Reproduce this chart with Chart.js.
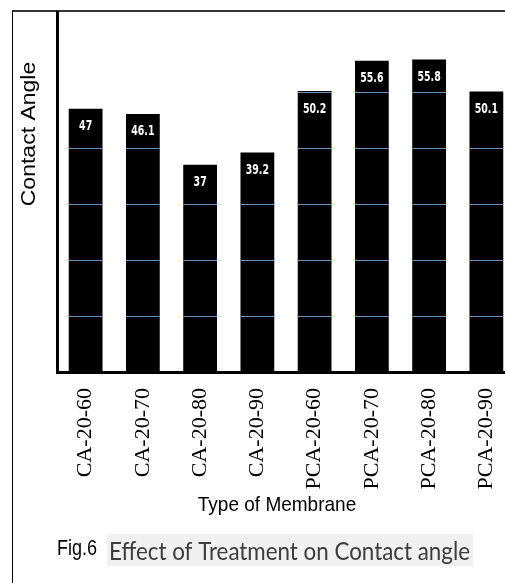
<!DOCTYPE html>
<html>
<head>
<meta charset="utf-8">
<script src="https://cdn.jsdelivr.net/npm/chart.js@4.4.0/dist/chart.umd.min.js"></script>
<style>
  html, body { margin: 0; padding: 0; background: #fff; overflow: hidden; }
  #wrap { position: relative; width: 505px; height: 583px; overflow: hidden; }
  #frame { position: absolute; left: 12px; top: 10px; width: 520px; height: 600px;
           border-left: 1px solid #000; border-top: 2px solid #333; }
  #box { position: absolute; left: 0; top: 0; width: 515px; height: 583px; }
</style>
</head>
<body>
<div id="wrap">
  <div id="frame"></div>
  <div id="box"><canvas id="chart"></canvas></div>
</div>
<script>
const membranes = ['CA-20-60', 'CA-20-70', 'CA-20-80', 'CA-20-90', 'PCA-20-60', 'PCA-20-70', 'PCA-20-80', 'PCA-20-90'];
const contactAngle = [47, 46.1, 37, 39.2, 50.2, 55.6, 55.8, 50.1];
const gridValues = [10, 20, 30, 40, 50];
const yMax = 64.3;

// gridlines only show on top of the black bars, plus the white value labels
const barOverlay = {
  id: 'barOverlay',
  afterDatasetsDraw(chart) {
    const ctx = chart.ctx;
    const yScale = chart.scales.y;
    const meta = chart.getDatasetMeta(0);
    ctx.save();
    meta.data.forEach((bar, i) => {
      const half = bar.width / 2;
      ctx.strokeStyle = '#6690c0';
      ctx.lineWidth = 1;
      gridValues.forEach(v => {
        const y = Math.round(yScale.getPixelForValue(v)) + 0.5;
        if (y > bar.y + 1) {
          ctx.beginPath();
          ctx.moveTo(bar.x - half, y);
          ctx.lineTo(bar.x + half, y);
          ctx.stroke();
        }
      });
      ctx.save();
      ctx.translate(bar.x, bar.y + 18);
      ctx.scale(0.95, 1.25);
      ctx.fillStyle = '#fff';
      ctx.font = 'bold 11px "DejaVu Sans Condensed", "DejaVu Sans"';
      ctx.textAlign = 'center';
      ctx.textBaseline = 'middle';
      ctx.fillText(String(contactAngle[i]), 0, 0);
      ctx.restore();
    });
    ctx.restore();
  },
  afterDraw(chart) {
    const ctx = chart.ctx;
    ctx.save();
    ctx.fillStyle = '#000';

    // y axis title
    ctx.save();
    ctx.translate(29, 134);
    ctx.rotate(-Math.PI / 2);
    ctx.scale(1.15, 1);
    ctx.font = '20px "Liberation Sans", Arial';
    ctx.textAlign = 'center';
    ctx.textBaseline = 'middle';
    ctx.fillText('Contact Angle', 0, 0);
    ctx.restore();

    // x axis title
    ctx.save();
    ctx.translate(277, 511);
    ctx.scale(1, 1.1);
    ctx.font = '19px "Liberation Sans", Arial';
    ctx.textAlign = 'center';
    ctx.textBaseline = 'alphabetic';
    ctx.fillText('Type of Membrane', 0, 0);
    ctx.restore();

    // figure caption
    ctx.save();
    ctx.translate(57, 555);
    ctx.scale(0.95, 1.2);
    ctx.font = '19px "Liberation Sans", Arial';
    ctx.textAlign = 'left';
    ctx.fillText('Fig.6', 0, 0);
    ctx.restore();

    ctx.fillStyle = '#f0f0f0';
    ctx.fillRect(107, 534, 366, 32);
    ctx.save();
    const caption = 'Effect of Treatment on Contact angle';
    ctx.font = '25px Lato, "Open Sans"';
    const w = ctx.measureText(caption).width;
    ctx.translate(109, 560);
    ctx.scale(361 / w, 1);
    ctx.fillStyle = '#3c3c3c';
    ctx.textAlign = 'left';
    ctx.fillText(caption, 0, 0);
    ctx.restore();

    ctx.restore();
  }
};

new Chart(document.getElementById('chart'), {
  type: 'bar',
  data: {
    labels: membranes,
    datasets: [{
      label: 'Contact Angle',
      data: contactAngle,
      backgroundColor: '#000',
      borderWidth: 0,
      barPercentage: 0.59,
      categoryPercentage: 1
    }]
  },
  options: {
    responsive: true,
    maintainAspectRatio: false,
    animation: false,
    layout: { padding: { top: 12, left: 0, right: 0, bottom: 0 } },
    plugins: {
      legend: { display: false },
      tooltip: { enabled: false }
    },
    scales: {
      x: {
        grid: { display: false },
        border: { color: '#000', width: 3 },
        ticks: {
          color: '#000',
          font: { family: '"Liberation Serif", "Times New Roman"', size: 22 },
          minRotation: 90,
          maxRotation: 90,
          autoSkip: false,
          padding: 8
        },
        afterFit(s) {
          s.height = 583 - 372;
          s.paddingLeft = 0;
          s.paddingRight = 0;
        }
      },
      y: {
        min: 0,
        max: yMax,
        grid: { display: false },
        border: { color: '#000', width: 3 },
        ticks: { display: false, stepSize: 10 },
        afterFit(s) {
          s.width = 57;
          s.paddingTop = 0;
          s.paddingBottom = 0;
        }
      }
    }
  },
  plugins: [barOverlay]
});
</script>
</body>
</html>
